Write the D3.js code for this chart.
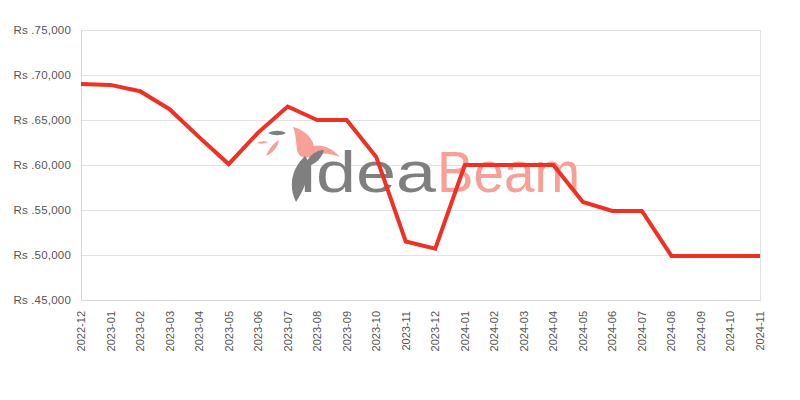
<!DOCTYPE html>
<html><head><meta charset="utf-8">
<script src="https://cdn.jsdelivr.net/npm/d3@7"></script>
<style>body{margin:0;background:#fff}svg{display:block}</style>
</head><body>
<svg id="c" width="800" height="400"></svg>
<script>
const months = ["2022-12","2023-01","2023-02","2023-03","2023-04","2023-05","2023-06","2023-07","2023-08","2023-09","2023-10","2023-11","2023-12","2024-01","2024-02","2024-03","2024-04","2024-05","2024-06","2024-07","2024-08","2024-09","2024-10","2024-11"];
const prices = [69000,68900,68200,66200,63100,60100,63600,66500,65000,65000,60900,51500,50700,60000,60000,60000,60000,55900,54900,54900,49900,49900,49900,49900];
const yTicks = [45000,50000,55000,60000,65000,70000,75000];

const svg = d3.select("#c");
const m = {l:81, r:760, t:30, b:300};
const x = d3.scalePoint().domain(months).range([m.l, m.r]);
const y = d3.scaleLinear().domain([45000,75000]).range([m.b, m.t]);
const fmt = d3.format(",");
const FONT = "Liberation Sans, Arial, sans-serif";

// grid
svg.append("g").selectAll("line").data(yTicks).join("line")
  .attr("x1", m.l).attr("x2", m.r)
  .attr("y1", d=>y(d)+0.5).attr("y2", d=>y(d)+0.5)
  .attr("stroke", "#e2e2e2").attr("stroke-width",1);
// frame
svg.append("line").attr("x1",m.l+0.5).attr("x2",m.l+0.5).attr("y1",m.t).attr("y2",m.b+0.5).attr("stroke","#d6d6d6");
svg.append("line").attr("x1",m.r+0.5).attr("x2",m.r+0.5).attr("y1",m.t).attr("y2",m.b+0.5).attr("stroke","#e2e2e2");
svg.append("line").attr("x1",m.l).attr("x2",m.r+0.5).attr("y1",m.b+0.5).attr("y2",m.b+0.5).attr("stroke","#d6d6d6");

// y labels
svg.append("g").selectAll("text").data(yTicks).join("text")
  .attr("x", 71).attr("y", d=>y(d)+4)
  .attr("text-anchor","end")
  .attr("font-family",FONT).attr("font-size",11.5)
  .attr("letter-spacing",0.2)
  .attr("fill","#555")
  .text(d=>"Rs ."+fmt(d));

// x labels
svg.append("g").selectAll("text").data(months).join("text")
  .attr("transform", d=>`translate(${x(d)+4},311) rotate(-90)`)
  .attr("text-anchor","end")
  .attr("font-family",FONT).attr("font-size",11)
  .attr("fill","#555")
  .text(d=>d);

// watermark
const wm = svg.append("g");
wm.append("text").attr("x",300).attr("y",192)
  .attr("font-family",FONT).attr("font-size",58)
  .attr("textLength",136).attr("lengthAdjust","spacingAndGlyphs")
  .attr("fill","#7f7f7f").text("idea");
wm.append("text").attr("x",437).attr("y",192)
  .attr("font-family",FONT).attr("font-size",58)
  .attr("textLength",143).attr("lengthAdjust","spacingAndGlyphs")
  .attr("fill","#f6a097").text("Beam");
// bird (salmon)
wm.append("path").attr("d","M293,127 C305,130 312,138 314,146 C322,144 332,148 340,157 C330,153 320,152 312,156 C304,160 298,156 297,150 C296,142 296,134 293,127 Z").attr("fill","#f6a097");
// leaves
wm.append("path").attr("d","M257,143 C261,141 265,141 268,142 C264,144 260,144 257,143 Z").attr("fill","#f6a097");
wm.append("path").attr("d","M266,156 C269,148 274,143 279,140 C278,147 273,153 266,156 Z").attr("fill","#f6a097");
wm.append("path").attr("d","M268,133 C274,130 281,130 286,133 C281,136 274,136 268,133 Z").attr("fill","#7f7f7f");
// feather (gray)
wm.append("path").attr("d","M305,156 C312,164 309,182 296,202 C289,188 290,170 305,156 Z").attr("fill","#7f7f7f");
wm.append("path").attr("d","M306,162 C311,154 317,150 324,150 C322,158 316,164 306,167 Z").attr("fill","#7f7f7f");

// line
const line = d3.line().x((d,i)=>x(months[i])).y(d=>y(d));
svg.append("path").datum(prices).attr("d", line)
  .attr("fill","none").attr("stroke","#ee3124").attr("stroke-width",4)
  .attr("stroke-linejoin","miter");
</script>
</body></html>
